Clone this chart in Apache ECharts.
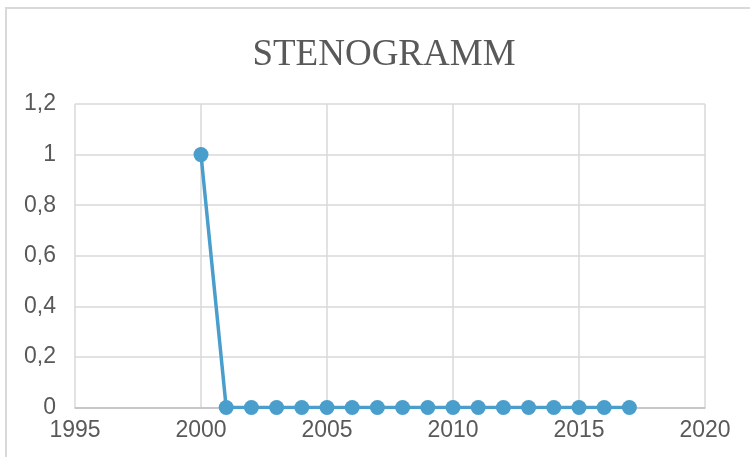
<!DOCTYPE html>
<html>
<head>
<meta charset="utf-8">
<script src="https://cdn.jsdelivr.net/npm/echarts@6/dist/echarts.min.js"></script>
<style>
  html, body { margin: 0; padding: 0; background: #fff; }
  #chart { width: 750px; height: 457px; }
</style>
</head>
<body>
<div id="chart"></div>
<script>
const years = [2000, 2001, 2002, 2003, 2004, 2005, 2006, 2007, 2008, 2009, 2010, 2011, 2012, 2013, 2014, 2015, 2016, 2017];
const values = [1, 0, 0, 0, 0, 0, 0, 0, 0, 0, 0, 0, 0, 0, 0, 0, 0, 0];

const chart = echarts.init(document.getElementById('chart'));
const textColor = '#595959';
const gridColor = '#d9d9d9';

const option = {
  animation: false,
  title: {
    text: 'STENOGRAMM',
    left: 379,
    textAlign: 'center',
    top: 32,
    textStyle: { fontFamily: 'Liberation Serif', fontWeight: 'normal', fontSize: 37, color: textColor }
  },
  graphic: [{
    type: 'rect',
    shape: { x: 6, y: 8, width: 800, height: 500 },
    style: { fill: 'none', stroke: gridColor, lineWidth: 2 },
    silent: true
  }],
  grid: { left: 75, right: 45, top: 104, bottom: 49.5 },
  xAxis: {
    type: 'value',
    min: 1995,
    max: 2020,
    interval: 5,
    axisLine: { show: true, lineStyle: { color: '#bfbfbf', width: 1.5 } },
    axisTick: { show: false },
    splitLine: { show: true, lineStyle: { color: gridColor, width: 1.5 } },
    axisLabel: {
      color: textColor, fontFamily: 'Liberation Sans', fontSize: 23, margin: 12,
      formatter: v => String(v)
    }
  },
  yAxis: {
    type: 'value',
    min: 0,
    max: 1.2,
    interval: 0.2,
    axisLine: { show: false },
    axisTick: { show: false },
    splitLine: { show: true, lineStyle: { color: gridColor, width: 1.5 } },
    axisLabel: {
      color: textColor, fontFamily: 'Liberation Sans', fontSize: 23, margin: 19,
      formatter: v => String(Number(v.toFixed(1))).replace('.', ',')
    }
  },
  series: [{
    type: 'line',
    data: years.map((y, i) => [y, values[i]]),
    symbol: 'circle',
    symbolSize: 15,
    lineStyle: { color: '#4a9ecc', width: 3.5 },
    itemStyle: { color: '#4a9ecc' }
  }]
};
chart.setOption(option);
window.addEventListener('resize', () => chart.resize());
</script>
</body>
</html>
